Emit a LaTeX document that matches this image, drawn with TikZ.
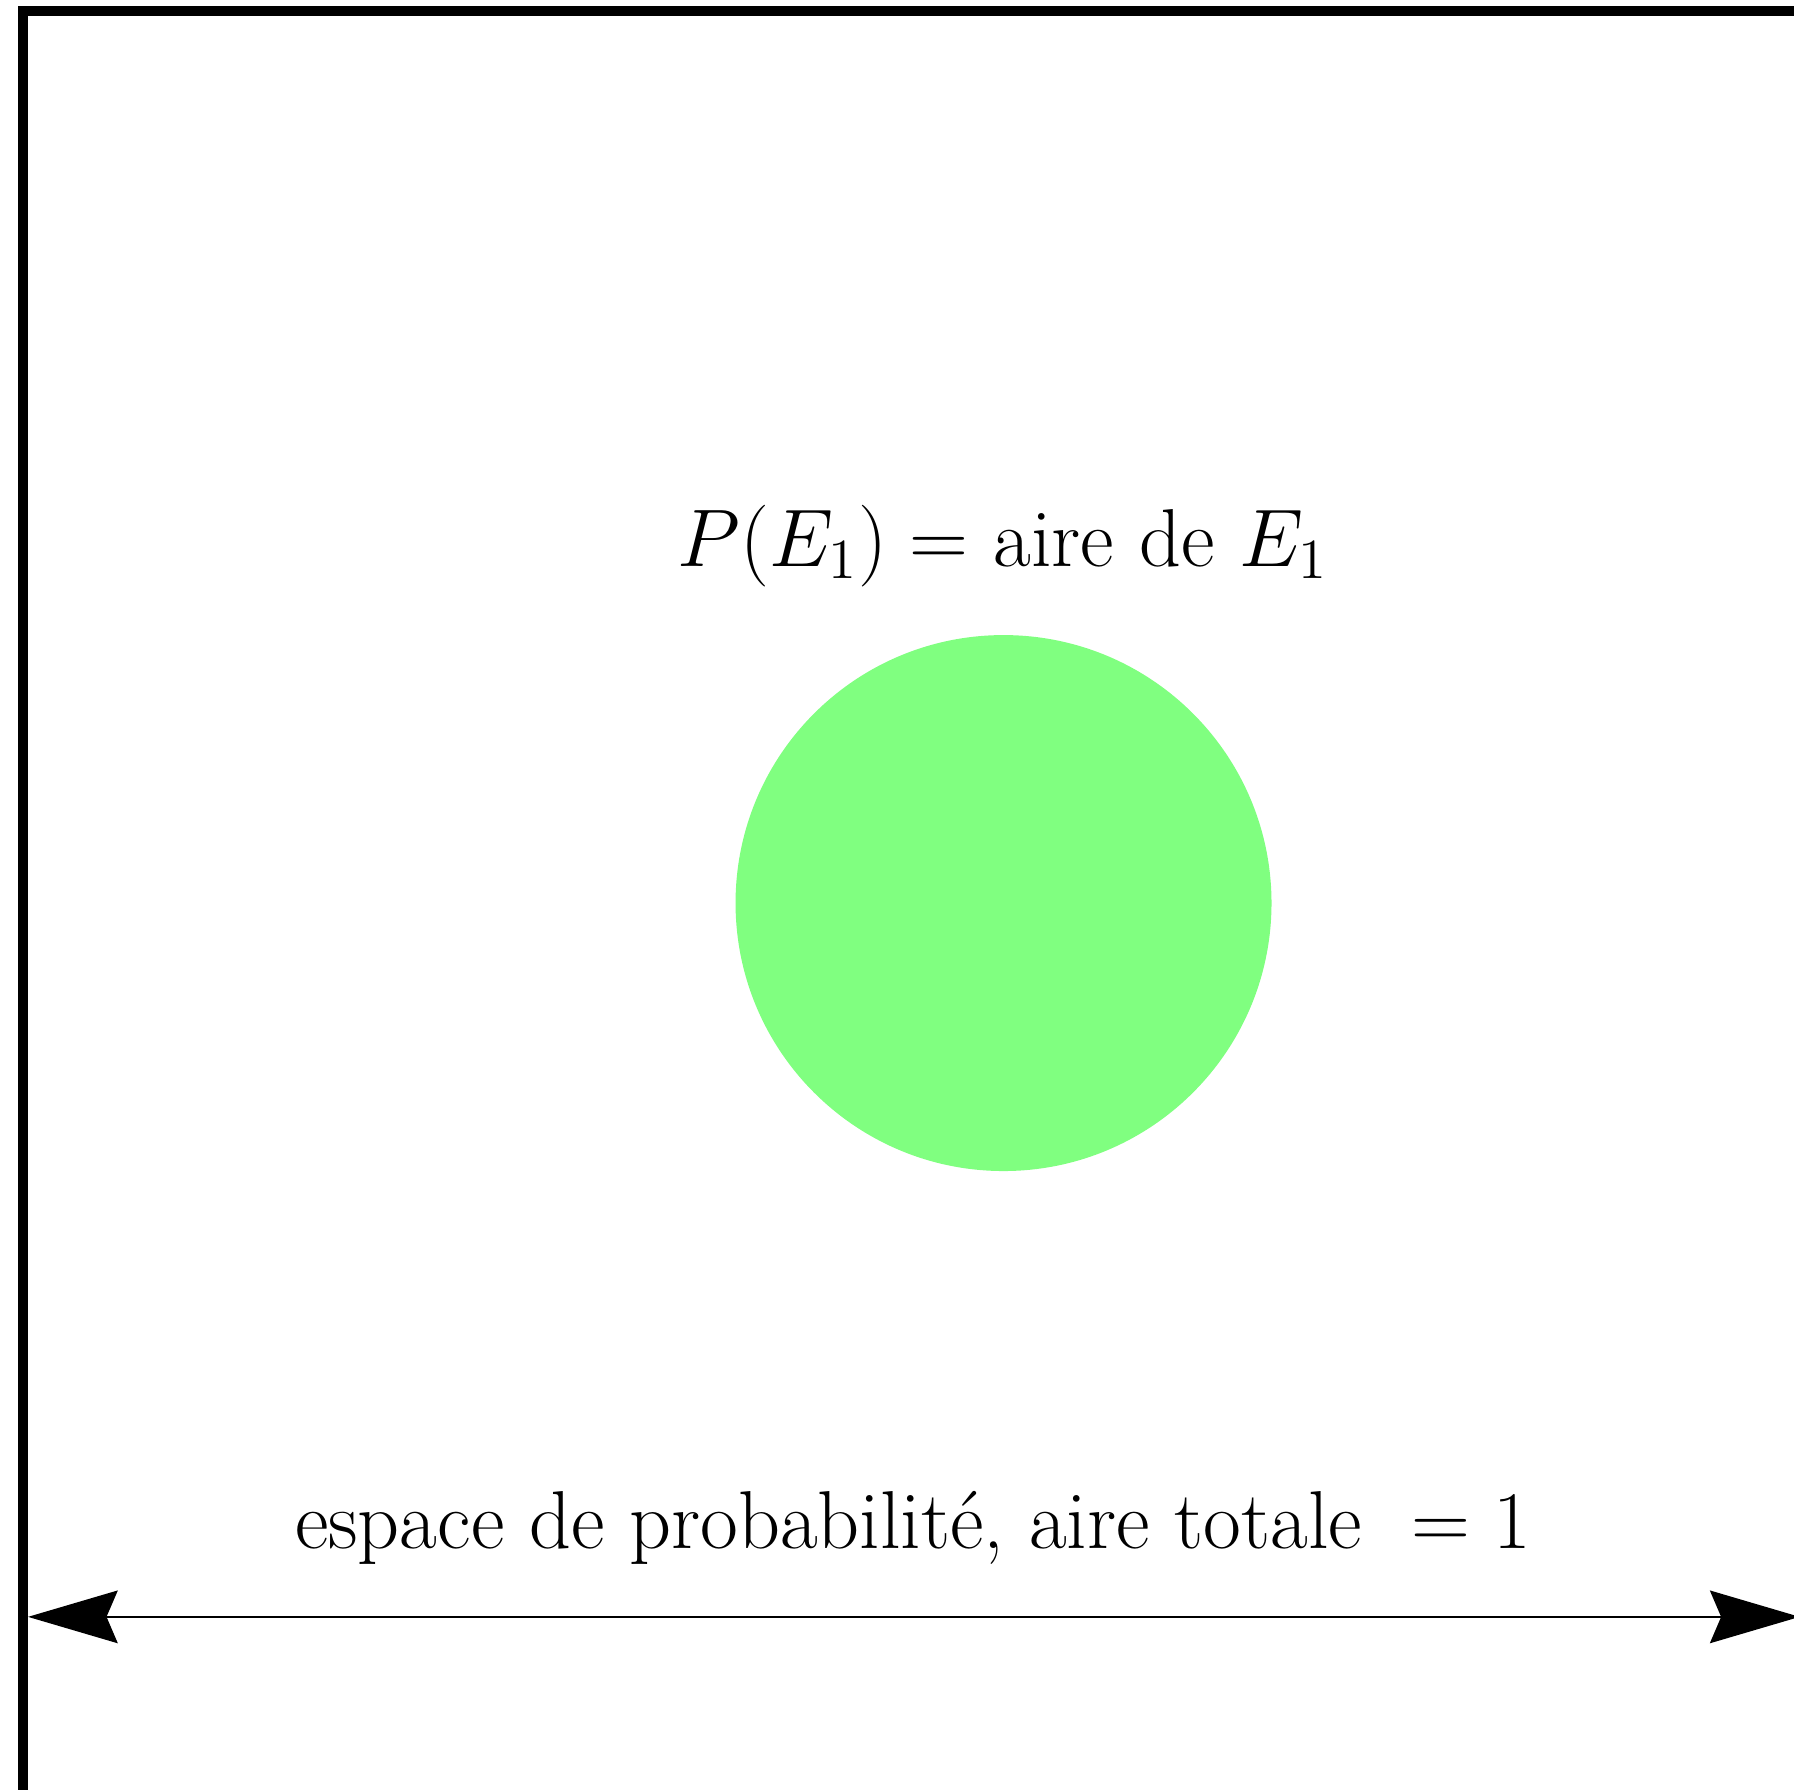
\documentclass[tikz,border=0pt]{standalone}
\usetikzlibrary{arrows.meta, positioning}
\begin{document}
\begin{tikzpicture}[every node/.style={font=\fontsize{20.85}{25}\selectfont},
      frame/.style={draw, line width=2.5pt},
      event/.style={circle, fill=green!50, minimum size=4.78cm, inner sep=0pt},
      span/.style={{Stealth[length=8mm, width=4.7mm, inset=1mm]}-{Stealth[length=8mm, width=4.7mm, inset=1mm]}}]
    \useasboundingbox (0,0) rectangle (16,-15.964);
    \clip (0,0) rectangle (16,-15.964);
    \draw[frame] (0.205,-0.098) rectangle (17.7,-17.7);
    \node[event] (e1) at (8.95,-8.054) {};
    \node[anchor=base] (pe1) at (8.945,-5.048) {$P(E_1) = $ aire de $E_1$};
    \node[anchor=base] (omega) at (8.143,-13.806) {espace de probabilit\'e, aire totale $\ = 1$};
    \coordinate (lend) at (0.25,-14.42);
    \coordinate (rend) at (16.05,-14.42);
    \draw[span] (lend) -- (rend);
  \end{tikzpicture}
\end{document}
